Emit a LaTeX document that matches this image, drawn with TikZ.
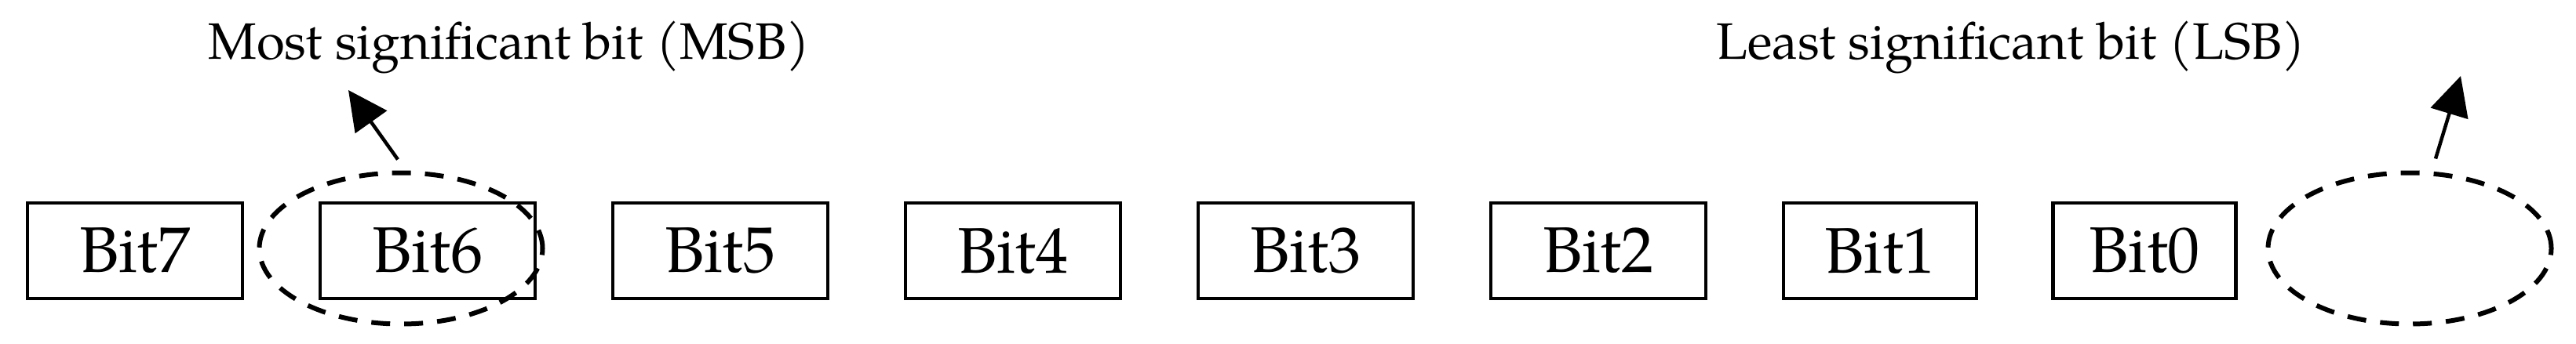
\documentclass[tikz,border=0pt]{standalone}
\usepackage{fontspec}
\setmainfont{TeX Gyre Pagella}
\usetikzlibrary{shapes, arrows.meta}

\begin{document}
\begin{tikzpicture}[node distance={37.3mm}, line width=0.045cm, >={Triangle[length=5mm, width=4.9mm]},
		bitbox/.style={draw, rectangle, inner sep=0pt, minimum width=27.4mm, minimum height=12.2mm, font=\fontsize{23.4}{28}\selectfont},
		ring/.style={draw, ellipse, inner sep=0pt, minimum width=36.1mm, minimum height=19.3mm, line width=0.06cm, dash pattern=on 2.4mm off 1.8mm},
		note/.style={anchor=base west, inner sep=0pt, font=\fontsize{18.6}{22}\selectfont}]
		\useasboundingbox (0,0) rectangle (32.83,4.38);
		\node[bitbox] (b7) at (1.72,1.18) {Bit7};
		\node[bitbox] (b6) [right of=b7] {Bit6};
		\node[bitbox] (b5) [right of=b6] {Bit5};
		\node[bitbox] (b4) [right of=b5] {Bit4};
		\node[bitbox] (b3) [right of=b4] {Bit3};
		\node[bitbox] (b2) [right of=b3] {Bit2};
		\node[bitbox, minimum width=24.6mm] (b1) [right of=b2, node distance=35.9mm] {Bit1};
		\node[bitbox, minimum width=23.3mm] (b0) [right of=b1, node distance=33.7mm] {Bit0};
		\node[ring] (msb) [right of=b7, node distance=33.9mm, yshift=0.3mm] {};
		\node[ring] (lsb) [right of=b0, node distance=33.8mm, yshift=0.3mm] {};
		\node[note] (msbtext) at (2.63,3.63) {Most significant bit (MSB)};
		\node[note] (lsbtext) at (21.85,3.63) {Least significant bit (LSB)};
		\coordinate (msbtip) at (4.44,3.23);
		\coordinate (lsbtip) at (31.36,3.41);
		\draw[->] ([xshift=-0.4mm, yshift=1.4mm]msb.north) -- (msbtip);
		\draw[->] ([xshift=3.3mm, yshift=1.5mm]lsb.north) -- (lsbtip);
	\end{tikzpicture}
\end{document}
